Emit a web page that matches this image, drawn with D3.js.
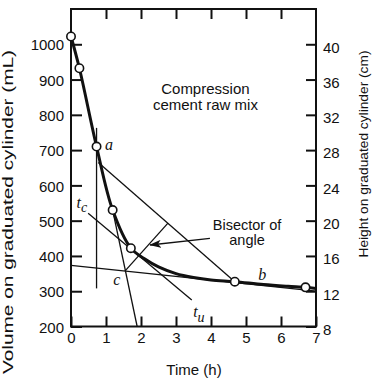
<!DOCTYPE html>
<html lang="en">
  <head>
    <meta charset="utf-8">
    <title>Compression cement raw mix</title>
    <script src="https://d3js.org/d3.v7.min.js"></script>
    <style>
      html, body {
        margin: 0;
        padding: 0;
        background: #fff;
      }
      svg {
        display: block;
        font-family: "Liberation Sans", Arial, sans-serif;
      }
      .tick text {
        font-size: 15px;
        fill: #111;
      }
      .tick line {
        stroke: #111;
        stroke-width: 2;
      }
      .guide {
        fill: none;
        stroke: #111;
        stroke-width: 1.3;
      }
      .lbl {
        font-family: "Liberation Serif", "Times New Roman", serif;
        font-style: italic;
        font-size: 16px;
        fill: #111;
      }
    </style>
  </head>
  <body>
    <svg id="chart" width="376" height="378"></svg>

    <script>
      // settling test: measured points (time h, volume mL)
      var pointT = [0, 0.24, 0.73, 1.19, 1.71, 4.68, 6.7];
      var pointV = [1022, 932, 710, 530, 422, 327, 311];

      // smooth curve drawn through the points
      var curveT = [0, 0.24, 0.73, 1.19, 1.71, 2.1, 2.5, 3.0, 3.5, 4.0, 4.68, 5.5, 6.2, 6.7, 7.0];
      var curveV = [1022, 932, 710, 530, 422, 392, 369, 350, 339, 332, 327, 319, 314, 311, 308];

      // construction lines, each as [[t, V], [t, V]]
      var verticalA = [[0.73, 763], [0.73, 308]];
      var tangentA  = [[0.78, 665], [4.68, 327]];
      var tangentSteep = [[1.19, 530], [1.89, 200]];
      var tangentB  = [[0, 373], [7, 300]];
      var tangentTc = [[0.49, 521], [3.45, 275]];
      var bisector  = [[1.54, 357], [2.77, 493]];
      var arrowLine = [[3.97, 450], [2.26, 431]];

      var timeTicks = [0, 1, 2, 3, 4, 5, 6, 7];
      var volumeTicks = [200, 300, 400, 500, 600, 700, 800, 900, 1000];
      var heightTicks = [8, 12, 16, 20, 24, 28, 32, 36, 40];

      var x = d3.scaleLinear().domain([0, 7]).range([71, 316]);
      var y = d3.scaleLinear().domain([200, 1100]).range([326.5, 9]);
      var yR = d3.scaleLinear().domain([8, 44]).range([326.5, 9]);

      var svg = d3.select('#chart');

      svg.append('defs').append('marker')
        .attr('id', 'head')
        .attr('viewBox', '0 0 12 8')
        .attr('refX', 11)
        .attr('refY', 4)
        .attr('markerWidth', 12)
        .attr('markerHeight', 8)
        .attr('markerUnits', 'userSpaceOnUse')
        .attr('orient', 'auto')
        .append('path')
          .attr('d', 'M0,0 L12,4 L0,8 L3,4 Z')
          .attr('fill', '#111');

      // axes (ticks point inward)
      var fmt = d3.format('d');
      var axBottom = svg.append('g')
        .attr('transform', 'translate(0,' + y.range()[0] + ')')
        .call(d3.axisBottom(x).tickValues(timeTicks).tickFormat(fmt).tickSizeInner(-10).tickSizeOuter(0).tickPadding(6));
      var axTop = svg.append('g')
        .attr('transform', 'translate(0,' + y.range()[1] + ')')
        .call(d3.axisTop(x).tickValues(timeTicks.slice(1, -1)).tickSizeInner(-10).tickSizeOuter(0).tickFormat(''));
      var axLeft = svg.append('g')
        .attr('transform', 'translate(' + x.range()[0] + ',0)')
        .call(d3.axisLeft(y).tickValues(volumeTicks).tickFormat(fmt).tickSizeInner(-11).tickSizeOuter(0).tickPadding(7));
      var axRight = svg.append('g')
        .attr('transform', 'translate(' + x.range()[1] + ',0)')
        .call(d3.axisRight(yR).tickValues(heightTicks).tickFormat(fmt).tickSizeInner(-10).tickSizeOuter(0).tickPadding(7));

      [axBottom, axTop, axLeft, axRight].forEach(function(g) {
        g.select('.domain').remove();
        g.attr('font-family', null).attr('font-size', null);
      });
      axLeft.selectAll('.tick text').attr('dy', '0.38em');
      axRight.selectAll('.tick text').attr('dy', '0.52em');

      // frame
      svg.append('rect')
        .attr('x', x(0))
        .attr('y', y(1100))
        .attr('width', x(7) - x(0))
        .attr('height', y(200) - y(1100))
        .attr('fill', 'none')
        .attr('stroke', '#111')
        .attr('stroke-width', 2);

      // axis titles
      svg.append('text')
        .attr('transform', 'translate(8,212) rotate(-90)')
        .attr('text-anchor', 'middle')
        .attr('dy', '0.35em')
        .attr('font-size', 14.5)
        .attr('textLength', 324)
        .attr('lengthAdjust', 'spacingAndGlyphs')
        .attr('fill', '#111')
        .text('Volume on graduated cylinder (mL)');

      svg.append('text')
        .attr('transform', 'translate(363,154) rotate(-90)')
        .attr('text-anchor', 'middle')
        .attr('dy', '0.35em')
        .attr('font-size', 13)
        .attr('textLength', 207)
        .attr('lengthAdjust', 'spacingAndGlyphs')
        .attr('fill', '#111')
        .text('Height on graduated cylinder (cm)');

      svg.append('text')
        .attr('x', 194)
        .attr('y', 375)
        .attr('text-anchor', 'middle')
        .attr('font-size', 15)
        .attr('fill', '#111')
        .text('Time (h)');

      // construction lines
      var line = d3.line().x(function(d) { return x(d[0]); }).y(function(d) { return y(d[1]); });
      [verticalA, tangentA, tangentSteep, tangentB, tangentTc, bisector].forEach(function(seg) {
        svg.append('path').attr('class', 'guide').attr('d', line(seg));
      });
      svg.append('path')
        .attr('class', 'guide')
        .attr('d', line(arrowLine))
        .attr('marker-end', 'url(#head)');

      // settling curve
      var curve = d3.line()
        .x(function(d) { return x(d[0]); })
        .y(function(d) { return y(d[1]); })
        .curve(d3.curveCatmullRom.alpha(0.5));
      svg.append('path')
        .attr('d', curve(curveT.map(function(t, i) { return [t, curveV[i]]; })))
        .attr('fill', 'none')
        .attr('stroke', '#111')
        .attr('stroke-width', 3);

      svg.selectAll('circle.pt')
        .data(pointT.map(function(t, i) { return [t, pointV[i]]; }))
        .enter().append('circle')
          .attr('class', 'pt')
          .attr('cx', function(d) { return x(d[0]); })
          .attr('cy', function(d) { return y(d[1]); })
          .attr('r', 4.2)
          .attr('fill', '#fff')
          .attr('stroke', '#111')
          .attr('stroke-width', 1.6);

      // annotations
      svg.append('text').attr('class', 'lbl').attr('x', x(0.97)).attr('y', y(699)).text('a');
      svg.append('text').attr('class', 'lbl').attr('x', x(5.35)).attr('y', y(332)).text('b');
      svg.append('text').attr('class', 'lbl').attr('x', x(1.21)).attr('y', y(318)).text('c');

      var tc = svg.append('text').attr('class', 'lbl').attr('x', x(0.16)).attr('y', y(536));
      tc.append('tspan').text('t');
      tc.append('tspan').attr('dy', 4).attr('font-size', 14).text('c');
      var tu = svg.append('text').attr('class', 'lbl').attr('x', x(3.49)).attr('y', y(228));
      tu.append('tspan').text('t');
      tu.append('tspan').attr('dy', 5).attr('font-size', 14).text('u');

      var note = svg.append('text').attr('text-anchor', 'middle').attr('font-size', 15).attr('fill', '#111');
      note.append('tspan').attr('x', x(3.84)).attr('y', y(859)).text('Compression');
      note.append('tspan').attr('x', x(3.84)).attr('y', y(814)).text('cement raw mix');

      var bis = svg.append('text').attr('text-anchor', 'middle').attr('font-size', 14.5).attr('fill', '#111');
      bis.append('tspan').attr('x', x(5.03)).attr('y', y(474)).text('Bisector of');
      bis.append('tspan').attr('x', x(5.03)).attr('y', y(430)).text('angle');
    </script>
  </body>
</html>
